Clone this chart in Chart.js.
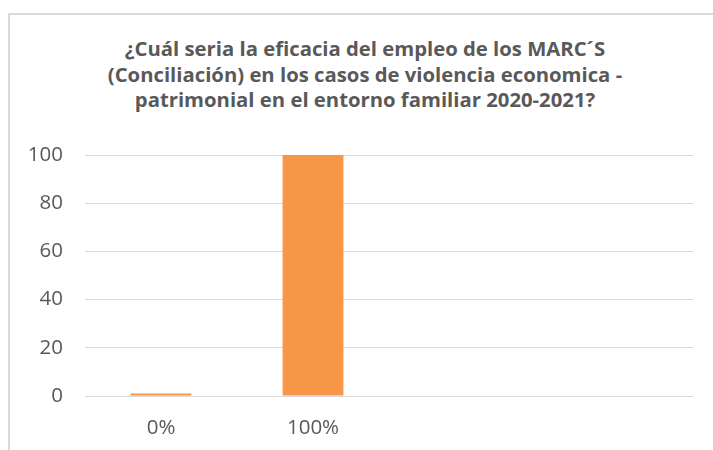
<!DOCTYPE html>
<html lang="es">
<head>
<meta charset="utf-8">
<title>Eficacia MARC´S</title>
<script src="https://cdn.jsdelivr.net/npm/chart.js@4/dist/chart.umd.min.js"></script>
<style>
    html, body { margin: 0; padding: 0; background: #ffffff; overflow: hidden; }
    body { width: 713px; height: 450px; position: relative; }
    .chart-frame {
        position: absolute;
        left: 8px;
        top: 13px;
        width: 720px;
        height: 460px;
        border: 2px solid #d9d9d9;
    }
    .chart-title {
        position: absolute;
        left: 0;
        top: 36px;
        width: 730px;
        text-align: center;
        font-family: 'Open Sans', sans-serif;
        font-weight: bold;
        font-size: 20.3px;
        line-height: 25.5px;
        color: #595959;
        white-space: nowrap;
    }
    .chart-holder {
        position: absolute;
        left: 10px;
        top: 15px;
        width: 703px;
        height: 435px;
    }
</style>
</head>
<body>
<div class="chart-frame"></div>
<div class="chart-title" id="chart-title"></div>
<div class="chart-holder"><canvas id="eficaciaChart"></canvas></div>
<script>
// chart data
const categories = ['0%', '100%', '', ''];
const respuestas = [1, 100, null, null];
const yTicks = [0, 20, 40, 60, 80, 100];
const titleLines = [
    '¿Cuál seria la eficacia del empleo de los MARC´S',
    '(Conciliación) en los casos de violencia economica -',
    'patrimonial en el entorno familiar 2020-2021?'
];

document.addEventListener('DOMContentLoaded', function() {
    const textColor = '#595959';
    const gridColor = '#d9d9d9';

    // Title lines
    const titleEl = document.getElementById('chart-title');
    titleLines.forEach((line, i) => {
        if (i > 0) titleEl.appendChild(document.createElement('br'));
        titleEl.appendChild(document.createTextNode(line));
    });

    const ctx = document.getElementById('eficaciaChart').getContext('2d');
    new Chart(ctx, {
        type: 'bar',
        data: {
            labels: categories,
            datasets: [
                {
                    label: 'Respuestas',
                    data: respuestas,
                    backgroundColor: '#f79646',
                    borderWidth: 0,
                    categoryPercentage: 0.8,
                    barPercentage: 0.5
                }
            ]
        },
        options: {
            responsive: true,
            maintainAspectRatio: false,
            animation: false,
            layout: {
                padding: { left: 0, right: 20, top: 140, bottom: 0 }
            },
            scales: {
                y: {
                    min: yTicks[0],
                    max: yTicks[yTicks.length - 1],
                    afterBuildTicks: function(scale) {
                        scale.ticks = yTicks.map(v => ({ value: v }));
                    },
                    afterFit: function(scale) {
                        scale.width = 75;
                    },
                    border: { display: false },
                    grid: {
                        color: gridColor,
                        lineWidth: 1,
                        drawTicks: false
                    },
                    ticks: {
                        padding: 22,
                        color: textColor,
                        font: { family: 'Open Sans', size: 20.5 }
                    }
                },
                x: {
                    afterFit: function(scale) {
                        scale.height = 54;
                    },
                    border: { display: false },
                    grid: { display: false, drawTicks: false },
                    ticks: {
                        padding: 20,
                        color: textColor,
                        font: { family: 'Open Sans', size: 20.5 }
                    }
                }
            },
            plugins: {
                legend: { display: false },
                tooltip: { enabled: false },
                title: { display: false }
            }
        }
    });
});
</script>
</body>
</html>
